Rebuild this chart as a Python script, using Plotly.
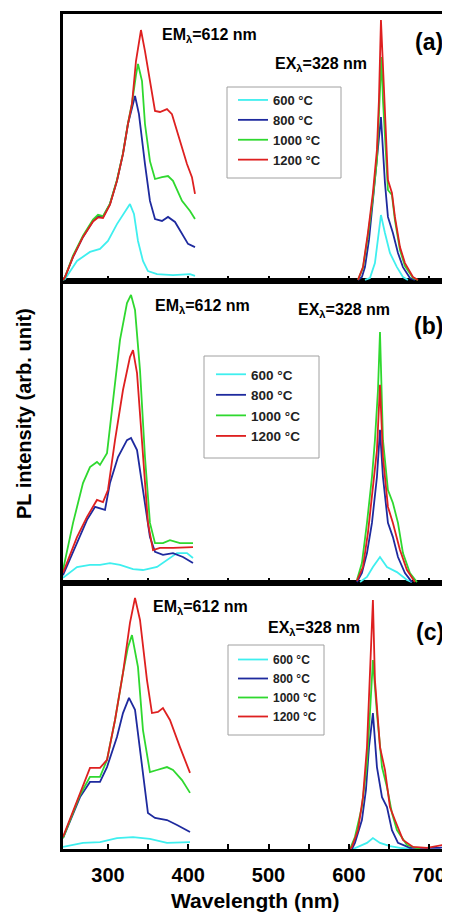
import plotly.graph_objects as go

# ---------------- data (x: wavelength nm, y: PL intensity, arb. unit) ----------------
temps = ["600 °C", "800 °C", "1000 °C", "1200 °C"]
colors = ["#3FEFEF", "#1E2A9E", "#2FD82F", "#DE2020"]

# Panel (a) - excitation part (EM 612 nm)
a_exc_x_600 = [244, 246.5, 261.4, 277.6, 290.1, 300.0, 311.2, 321.2, 327.4, 332.4, 337.4, 343.6, 349.8, 361.1, 381.0, 402.2, 408.4]
a_exc_y_600 = [0.4, 0.7, 7.5, 10.9, 12.0, 15.0, 21.3, 26.2, 28.8, 25.1, 15.0, 7.5, 3.7, 2.6, 2.2, 2.6, 1.9]
a_exc_x_800 = [244, 246.5, 256.5, 268.9, 281.4, 287.6, 293.8, 302.5, 311.2, 318.7, 324.9, 329.9, 333.7, 338.6, 342.4, 346.1, 352.3, 358.6, 367.3, 374.8, 383.5, 392.2, 399.7, 408.4]
a_exc_y_800 = [0.4, 1.5, 9.0, 16.5, 22.5, 24.3, 24.0, 28.8, 37.5, 47.6, 58.8, 65.5, 69.3, 62.5, 52.4, 43.8, 30.0, 23.2, 22.5, 24.0, 22.1, 17.6, 13.9, 12.7]
a_exc_x_1000 = [244, 246.5, 256.5, 268.9, 281.4, 287.6, 293.8, 302.5, 311.2, 318.7, 324.9, 329.9, 334.9, 337.4, 342.4, 346.1, 352.3, 358.6, 367.3, 374.8, 381.0, 392.2, 402.2, 408.4]
a_exc_y_1000 = [0.4, 1.5, 9.5, 17.0, 23.0, 24.8, 24.3, 29.0, 37.8, 47.8, 59.0, 66.5, 77.1, 81.3, 74.9, 58.8, 44.9, 38.2, 38.9, 39.3, 37.5, 30.0, 26.2, 23.2]
a_exc_x_1200 = [244, 246.5, 256.5, 268.9, 281.4, 287.6, 293.8, 302.5, 311.2, 318.7, 324.9, 329.9, 334.9, 341.1, 346.1, 352.3, 358.6, 364.8, 373.5, 379.7, 387.2, 398.4, 404.6, 408.4]
a_exc_y_1200 = [0.4, 1.5, 9.0, 16.5, 22.3, 23.8, 23.6, 28.6, 37.5, 47.6, 58.8, 66.3, 82.4, 94.0, 86.1, 74.9, 63.7, 63.3, 64.4, 62.5, 55.1, 43.8, 38.9, 32.6]

# Panel (a) - emission part (EX 328 nm)
a_em_x_600 = [620.1, 626.3, 632.5, 636.3, 640.0, 645.0, 651.2, 659.9, 667.4, 673.6]
a_em_y_600 = [0.4, 1.1, 6.7, 15.4, 24.7, 18.0, 10.5, 5.2, 1.5, 0.4]
a_em_x_800 = [611.4, 616.3, 620.1, 625.1, 630.0, 635.0, 640.0, 645.0, 648.7, 654.9, 661.2, 667.4, 676.1, 682.3]
a_em_y_800 = [0.4, 1.5, 5.2, 15.4, 30.3, 46.4, 61.4, 36.7, 24.0, 18.0, 10.5, 5.2, 1.1, 0.4]
a_em_x_1000 = [611.4, 617.6, 623.8, 630.0, 635.0, 637.5, 640.6, 642.5, 646.2, 648.7, 653.7, 657.4, 663.7, 669.9, 679.9, 686.1]
a_em_y_1000 = [0.4, 4.9, 16.9, 31.1, 45.3, 64.0, 83.9, 67.8, 45.3, 34.1, 32.2, 22.8, 11.6, 5.6, 1.1, 0.4]
a_em_x_1200 = [611.4, 617.6, 623.8, 630.0, 635.0, 637.5, 640.0, 642.5, 646.2, 648.7, 653.7, 657.4, 663.7, 669.9, 679.9, 686.1]
a_em_y_1200 = [0.4, 5.2, 18.0, 33.0, 49.1, 67.8, 97.7, 80.1, 49.1, 37.8, 33.0, 24.0, 12.7, 6.7, 1.5, 0.4]

# Panel (b) - excitation part
b_exc_x_600 = [244, 261.4, 277.6, 290.1, 302.5, 315.0, 331.2, 343.6, 361.1, 373.5, 386.0, 398.4, 405.9]
b_exc_y_600 = [1.7, 5.3, 6.0, 6.0, 6.6, 6.0, 4.6, 4.3, 5.3, 7.6, 9.9, 9.9, 8.3]
b_exc_x_800 = [244, 261.4, 273.9, 283.9, 290.1, 296.3, 302.5, 312.5, 323.7, 328.7, 336.2, 343.6, 352.3, 358.6, 368.5, 381.0, 393.4, 405.9]
b_exc_y_800 = [2.6, 13.2, 20.9, 25.2, 24.8, 24.2, 33.1, 41.7, 47.3, 48.0, 44.0, 30.8, 15.2, 10.3, 9.3, 9.9, 8.6, 6.6]
b_exc_x_1000 = [244, 256.5, 268.9, 277.6, 286.3, 290.1, 298.8, 306.3, 315.0, 323.7, 328.7, 333.7, 339.9, 346.1, 352.3, 358.6, 368.5, 377.2, 389.7, 405.9]
b_exc_y_1000 = [4.3, 19.9, 33.1, 38.4, 40.1, 39.1, 43.0, 60.6, 80.5, 92.7, 95.4, 90.4, 70.5, 41.7, 19.9, 13.2, 13.2, 14.2, 13.2, 13.2]
b_exc_x_1200 = [244, 261.4, 273.9, 286.3, 293.8, 300.0, 308.8, 318.7, 327.4, 331.2, 336.2, 343.6, 349.8, 356.1, 364.8, 381.0, 405.9]
b_exc_y_1200 = [3.3, 15.2, 21.9, 27.5, 26.8, 30.8, 47.3, 63.9, 74.8, 77.1, 69.5, 41.7, 19.9, 10.9, 11.6, 11.6, 11.9]

# Panel (b) - emission part
b_em_x_600 = [614.0, 622.6, 630.0, 638.8, 647.5, 659.9, 672.4, 678.6]
b_em_y_600 = [0.3, 2.0, 5.3, 8.6, 5.3, 3.6, 1.0, 0.3]
b_em_x_800 = [610.1, 616.3, 622.6, 628.8, 635.0, 638.8, 642.5, 648.7, 654.9, 661.2, 669.9, 678.6]
b_em_y_800 = [0.3, 3.3, 9.9, 19.9, 35.1, 50.7, 35.1, 19.9, 15.2, 8.6, 3.3, 0.3]
b_em_x_1000 = [610.1, 616.3, 622.6, 628.8, 632.5, 636.3, 638.8, 642.5, 648.7, 654.9, 661.2, 667.4, 676.1, 684.8]
b_em_y_1000 = [1.0, 6.6, 19.9, 35.1, 47.3, 63.9, 83.1, 47.3, 30.8, 26.5, 19.9, 9.9, 3.3, 0.3]
b_em_x_1200 = [610.1, 617.6, 623.8, 630.0, 635.0, 638.8, 642.5, 648.7, 654.9, 663.7, 672.4, 682.3]
b_em_y_1200 = [0.7, 5.3, 16.6, 30.8, 44.0, 65.6, 41.7, 25.2, 19.9, 10.9, 4.3, 0.3]

# Panel (c) - excitation part
c_exc_x_600 = [244, 268.9, 290.1, 311.2, 331.2, 352.3, 373.5, 402.2]
c_exc_y_600 = [0.8, 2.3, 2.6, 4.1, 4.5, 3.8, 2.3, 2.6]
c_exc_x_800 = [244, 265.2, 277.6, 290.1, 298.8, 311.2, 318.7, 326.2, 333.7, 342.4, 349.8, 358.6, 373.5, 386.0, 402.2]
c_exc_y_800 = [4.1, 19.5, 25.2, 25.2, 30.8, 42.1, 51.1, 56.8, 52.3, 30.8, 13.5, 11.7, 10.9, 9.0, 6.4]
c_exc_x_1000 = [244, 265.2, 277.6, 290.1, 298.8, 308.8, 318.7, 324.9, 329.9, 337.4, 343.6, 352.3, 361.1, 373.5, 381.0, 392.2, 402.2]
c_exc_y_1000 = [4.1, 20.3, 27.1, 27.1, 33.5, 48.5, 66.2, 75.9, 80.4, 68.4, 44.7, 28.9, 29.7, 30.8, 29.7, 25.9, 21.1]
c_exc_x_1200 = [244, 265.2, 277.6, 290.1, 298.8, 308.8, 318.7, 327.4, 333.7, 339.9, 348.6, 354.8, 362.3, 368.5, 377.2, 389.7, 402.2]
c_exc_y_1200 = [4.5, 21.1, 30.5, 30.5, 33.5, 48.5, 66.2, 85.0, 94.4, 86.1, 63.5, 51.1, 51.5, 53.0, 48.5, 38.3, 28.6]

# Panel (c) - emission part
c_em_x_600 = [605.1, 622.6, 630.0, 638.8, 651.2, 663.7, 678.6]
c_em_y_600 = [0.0, 2.3, 4.1, 2.3, 1.1, 0.4, 0.0]
c_em_x_800 = [603.9, 607.6, 616.3, 621.3, 625.1, 630.0, 635.0, 641.3, 647.5, 653.7, 661.2, 676.1, 713.4, 725.9]
c_em_y_800 = [0.0, 2.3, 10.9, 22.2, 38.3, 51.1, 30.8, 19.5, 15.8, 7.1, 2.3, 0.4, 0.4, 1.5]
c_em_x_1000 = [601.4, 607.6, 616.3, 622.6, 626.3, 630.0, 635.0, 641.3, 647.5, 653.7, 659.9, 672.4, 688.5]
c_em_y_1000 = [0.0, 4.5, 15.8, 32.3, 51.1, 71.0, 51.1, 30.8, 23.3, 13.5, 7.1, 1.5, 0.0]
c_em_x_1200 = [601.4, 603.9, 611.4, 617.6, 622.6, 626.3, 630.0, 632.5, 638.8, 645.0, 651.2, 657.4, 667.4, 679.9, 697.3, 717.2, 725.9]
c_em_y_1200 = [0.0, 0.8, 7.1, 19.5, 38.3, 63.5, 93.6, 63.5, 38.3, 29.7, 15.8, 10.9, 3.4, 0.8, 0.4, 1.5, 2.3]

major_ticks = [300, 400, 500, 600, 700]
minor_ticks = [350, 450, 550, 650]

panels = {
    "a": {"exc": [(a_exc_x_600, a_exc_y_600), (a_exc_x_800, a_exc_y_800), (a_exc_x_1000, a_exc_y_1000), (a_exc_x_1200, a_exc_y_1200)],
          "em": [(a_em_x_600, a_em_y_600), (a_em_x_800, a_em_y_800), (a_em_x_1000, a_em_y_1000), (a_em_x_1200, a_em_y_1200)],
          "axes": ("x3", "y3"), "legend": "legend"},
    "b": {"exc": [(b_exc_x_600, b_exc_y_600), (b_exc_x_800, b_exc_y_800), (b_exc_x_1000, b_exc_y_1000), (b_exc_x_1200, b_exc_y_1200)],
          "em": [(b_em_x_600, b_em_y_600), (b_em_x_800, b_em_y_800), (b_em_x_1000, b_em_y_1000), (b_em_x_1200, b_em_y_1200)],
          "axes": ("x2", "y2"), "legend": "legend2"},
    "c": {"exc": [(c_exc_x_600, c_exc_y_600), (c_exc_x_800, c_exc_y_800), (c_exc_x_1000, c_exc_y_1000), (c_exc_x_1200, c_exc_y_1200)],
          "em": [(c_em_x_600, c_em_y_600), (c_em_x_800, c_em_y_800), (c_em_x_1000, c_em_y_1000), (c_em_x_1200, c_em_y_1200)],
          "axes": ("x", "y"), "legend": "legend3"},
}

fig = go.Figure()
for key, p in panels.items():
    xa, ya = p["axes"]
    for i, t in enumerate(temps):
        ex_x, ex_y = p["exc"][i]
        em_x, em_y = p["em"][i]
        fig.add_trace(go.Scatter(
            x=list(ex_x) + [None] + list(em_x),
            y=list(ex_y) + [None] + list(em_y),
            mode="lines", name=t, xaxis=xa, yaxis=ya,
            line=dict(color=colors[i], width=1.8),
            legend=p["legend"], connectgaps=False,
        ))

FONT = "Liberation Sans, Arial, sans-serif"
OFF = 8  # page body margin
FIG_W, FIG_H = 450 - OFF, 914 - OFF
PLOT_L, PLOT_R, PLOT_T, PLOT_B = 63 - OFF, 450 - OFF, 14 - OFF, 849 - OFF
W = PLOT_R - PLOT_L
HH = PLOT_B - PLOT_T

def px(xr):
    # xr: x position in reference-picture pixels
    return (xr - OFF - PLOT_L) / W

def py(yr):
    return (PLOT_B - (yr - OFF)) / HH

xcommon = dict(range=[244, 726], showline=True, linewidth=3, linecolor="black", mirror=True,
               ticks="inside", ticklen=5, tickwidth=2, tickcolor="black",
               tickmode="array", tickvals=major_ticks,
               minor=dict(tickmode="array", tickvals=minor_ticks, ticks="inside", ticklen=5,
                          tickwidth=2, tickcolor="black", showgrid=False),
               showgrid=False, zeroline=False)
ycommon = dict(range=[0, 100], showline=True, linewidth=3, linecolor="black",
               showticklabels=False, ticks="", showgrid=False, zeroline=False)

dom_c = [0, py(583)]
dom_b = [py(583), py(281)]
dom_a = [py(281), 1]

fig.update_layout(
    width=FIG_W, height=FIG_H,
    margin=dict(l=PLOT_L, r=FIG_W - PLOT_R, t=PLOT_T, b=FIG_H - PLOT_B),
    paper_bgcolor="white", plot_bgcolor="white",
    xaxis=dict(**xcommon, anchor="y", showticklabels=True, ticklabelstandoff=6,
               tickfont=dict(family=FONT, size=20, color="black", weight="bold")),
    yaxis=dict(**ycommon, domain=dom_c, anchor="x"),
    xaxis2=dict(**xcommon, anchor="y2", showticklabels=False),
    yaxis2=dict(**ycommon, domain=dom_b, anchor="x2"),
    xaxis3=dict(**xcommon, anchor="y3", showticklabels=False),
    yaxis3=dict(**ycommon, domain=dom_a, anchor="x3"),
    legend=dict(x=px(233), y=py(85), xanchor="left", yanchor="top", bgcolor="rgba(0,0,0,0)",
                font=dict(family=FONT, size=13, color="#222", weight="bold"), itemwidth=30),
    legend2=dict(x=px(211), y=py(359), xanchor="left", yanchor="top", bgcolor="rgba(0,0,0,0)",
                 font=dict(family=FONT, size=13.5, color="#222", weight="bold"), itemwidth=30),
    legend3=dict(x=px(233), y=py(645), xanchor="left", yanchor="top", bgcolor="rgba(0,0,0,0)",
                 font=dict(family=FONT, size=12, color="#222", weight="bold"), itemwidth=30),
    showlegend=True,
)

# legend frames
for (x0, y0, x1, y1) in [(227, 87, 341, 178), (204, 356, 319, 458), (228, 645, 324, 735)]:
    fig.add_shape(type="rect", xref="paper", yref="paper", x0=px(x0), x1=px(x1), y0=py(y1), y1=py(y0),
                  line=dict(color="#A0A0A0", width=1), fillcolor="rgba(0,0,0,0)", layer="below")

ann_font = dict(family=FONT, size=16, color="black", weight="bold")
lab_font = dict(family=FONT, size=23, color="black", weight="bold")
annots = [
    ("EM<sub>λ</sub>=612 nm", 160, 35, "left", ann_font),
    ("EX<sub>λ</sub>=328 nm", 273, 64, "left", ann_font),
    ("(a)", 445, 42, "right", lab_font),
    ("EM<sub>λ</sub>=612 nm", 153, 307, "left", ann_font),
    ("EX<sub>λ</sub>=328 nm", 296, 311, "left", ann_font),
    ("(b)", 445, 326, "right", lab_font),
    ("EM<sub>λ</sub>=612 nm", 151, 608, "left", ann_font),
    ("EX<sub>λ</sub>=328 nm", 266, 628, "left", ann_font),
    ("(c)", 446, 632, "right", lab_font),
]
for text, x, y, xa, f in annots:
    fig.add_annotation(text=text, xref="paper", yref="paper", x=px(x), y=py(y),
                       xanchor=xa, yanchor="middle", showarrow=False, font=f)

fig.add_annotation(text="PL intensity (arb. unit)", xref="paper", yref="paper",
                   x=px(24), y=py(414), xanchor="center", yanchor="middle", textangle=-90,
                   showarrow=False, font=dict(family=FONT, size=20, color="black", weight="bold"))
fig.add_annotation(text="Wavelength (nm)", xref="paper", yref="paper",
                   x=px(255), y=py(900), xanchor="center", yanchor="middle",
                   showarrow=False, font=dict(family=FONT, size=21, color="black", weight="bold"))

fig.write_html("out.html")
